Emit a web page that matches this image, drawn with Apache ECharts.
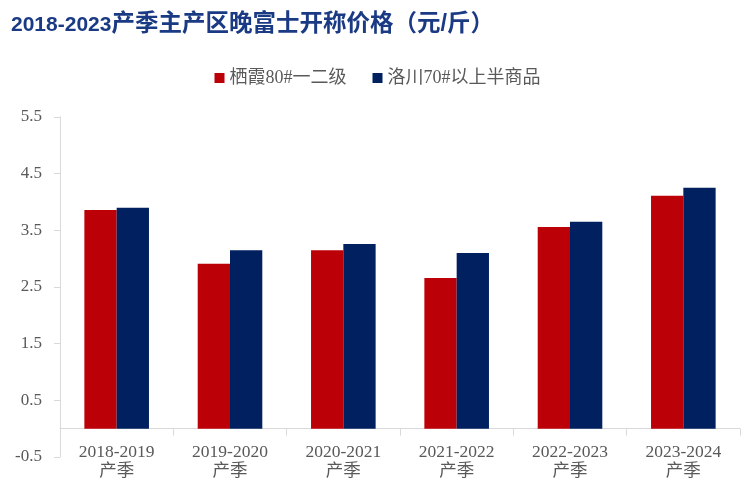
<!DOCTYPE html>
<html>
<head>
<meta charset="utf-8">
<script src="https://cdn.jsdelivr.net/npm/echarts@6/dist/echarts.min.js"></script>
<style>html,body{margin:0;padding:0;background:#fff}#main{width:755px;height:498px}</style>
</head>
<body>
<div id="main"></div>
<script>
var categories = ['2018-2019\n产季', '2019-2020\n产季', '2020-2021\n产季', '2021-2022\n产季', '2022-2023\n产季', '2023-2024\n产季'];
var seriesNames = ['栖霞80#一二级', '洛川70#以上半商品'];
var qixia = [3.86, 2.91, 3.15, 2.66, 3.56, 4.11];
var luochuan = [3.90, 3.15, 3.26, 3.10, 3.65, 4.25];
var yTicks = [-0.5, 0.5, 1.5, 2.5, 3.5, 4.5, 5.5];

var serif = '"Liberation Serif", "Times New Roman", "Noto Sans CJK SC", serif';
var titleFont = 'Arial, "Liberation Sans", "Noto Sans CJK SC", sans-serif';
var chart = echarts.init(document.getElementById('main'));
chart.setOption({
  animation: false,
  title: {
    text: '{a|2018-2023}{b|产季主产区晚富士开称价格（元/斤）}',
    left: 6, top: 8,
    textStyle: {
      rich: {
        a: { color: '#1a3a84', fontSize: 21, fontWeight: 'bold', fontFamily: titleFont },
        b: { color: '#1a3a84', fontSize: 23.5, fontWeight: 'bold', fontFamily: titleFont }
      }
    }
  },
  legend: {
    data: seriesNames,
    top: 64, left: 'center',
    itemWidth: 10, itemHeight: 10, itemGap: 26,
    icon: 'rect',
    textStyle: { color: '#595959', fontSize: 18, fontFamily: serif }
  },
  grid: { left: 60, right: 15, top: 117, bottom: 41, outerBoundsMode: 'none', containLabel: false },
  xAxis: {
    type: 'category',
    data: categories,
    axisLine: { onZero: true, lineStyle: { color: '#d9d9d9' } },
    axisTick: { show: true, length: 7, lineStyle: { color: '#d9d9d9' } },
    axisLabel: { color: '#595959', fontSize: 17.5, fontFamily: serif, lineHeight: 19, margin: -14 }
  },
  yAxis: {
    type: 'value',
    min: yTicks[0], max: yTicks[yTicks.length - 1], interval: 1,
    axisLine: { show: true, lineStyle: { color: '#d9d9d9' } },
    axisTick: { show: true, length: 6, lineStyle: { color: '#d9d9d9' } },
    splitLine: { show: false },
    axisLabel: { color: '#595959', fontSize: 17, fontFamily: serif, margin: 18,
      formatter: function (v) { return v.toFixed(1); } }
  },
  series: [
    { name: seriesNames[0], type: 'bar', data: qixia, barGap: '0%', barCategoryGap: '43%', itemStyle: { color: '#BB0008' } },
    { name: seriesNames[1], type: 'bar', data: luochuan, itemStyle: { color: '#00205F' } }
  ]
});
</script>
</body>
</html>
